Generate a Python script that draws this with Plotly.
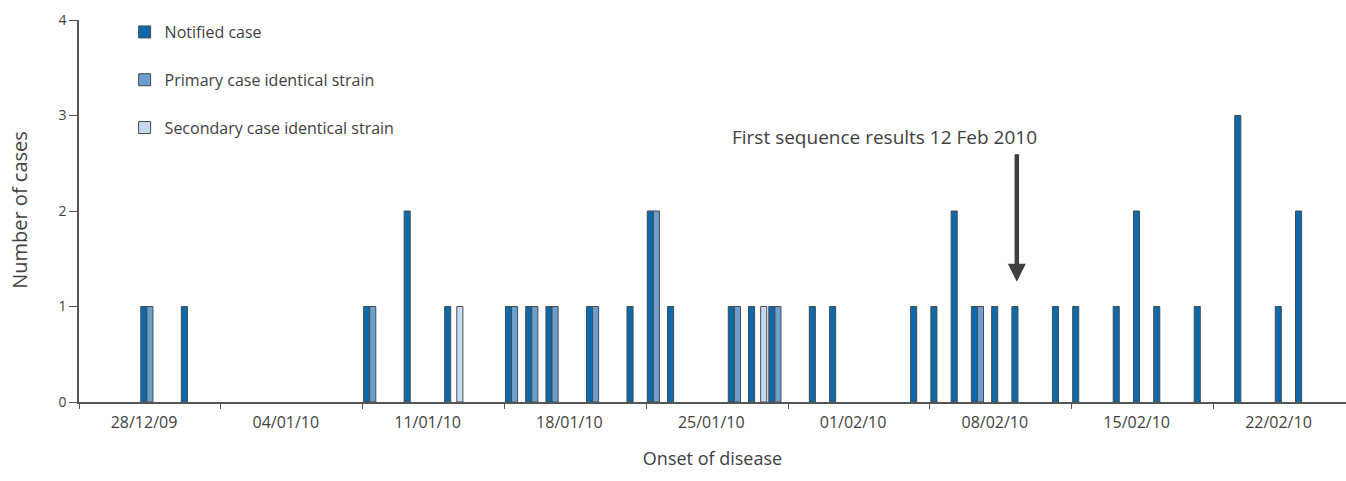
import pandas as pd
import plotly.graph_objects as go

# ---- data ----
notified_dates = ["2009-12-31", "2010-01-02", "2010-01-11", "2010-01-13", "2010-01-15",
                  "2010-01-18", "2010-01-19", "2010-01-20", "2010-01-22", "2010-01-24",
                  "2010-01-25", "2010-01-26", "2010-01-29", "2010-01-30", "2010-01-31",
                  "2010-02-02", "2010-02-03", "2010-02-07", "2010-02-08", "2010-02-09",
                  "2010-02-10", "2010-02-11", "2010-02-12", "2010-02-14", "2010-02-15",
                  "2010-02-17", "2010-02-18", "2010-02-19", "2010-02-21", "2010-02-23",
                  "2010-02-25", "2010-02-26"]
notified_counts = [1, 1, 1, 2, 1,
                   1, 1, 1, 1, 1,
                   2, 1, 1, 1, 1,
                   1, 1, 1, 1, 2,
                   1, 1, 1, 1, 1,
                   1, 2, 1, 1, 3,
                   1, 2]

primary_dates = ["2009-12-31", "2010-01-11", "2010-01-18", "2010-01-19", "2010-01-20",
                 "2010-01-22", "2010-01-25", "2010-01-29", "2010-01-31", "2010-02-10"]
primary_counts = [1, 1, 1, 1, 1, 1, 2, 1, 1, 1]

secondary_dates = ["2010-01-15", "2010-01-30"]
secondary_counts = [1, 1]

week_starts = ["2009-12-28", "2010-01-04", "2010-01-11", "2010-01-18", "2010-01-25",
               "2010-02-01", "2010-02-08", "2010-02-15", "2010-02-22"]
week_labels = ["28/12/09", "04/01/10", "11/01/10", "18/01/10", "25/01/10",
               "01/02/10", "08/02/10", "15/02/10", "22/02/10"]

axis_end = "2010-02-28 13:00"
annotation_text = "First sequence results 12 Feb 2010"
annotation_date = "2010-02-12"
x_title = "Onset of disease"
y_title = "Number of cases"

# ---- styling ----
FONT = "Open Sans"
TXT = "#3f3f3f"
AX = "#555555"
EDGE = "#4a4a4a"
C_NOT = "#0a6aab"
C_PRI = "#6c9fd1"
C_SEC = "#c6daef"


def mid_day(dates):
    # place each bar in the middle of its day slot
    return pd.to_datetime(dates) + pd.Timedelta(hours=12)


fig = go.Figure()
for name, d, v, c, g in [
    ("Notified case", notified_dates, notified_counts, C_NOT, "a"),
    ("Primary case identical strain", primary_dates, primary_counts, C_PRI, "b"),
    ("Secondary case identical strain", secondary_dates, secondary_counts, C_SEC, "c"),
]:
    fig.add_trace(go.Bar(
        x=mid_day(d), y=v, name=name, legendgroup=g,
        marker=dict(color=c, line=dict(color=EDGE, width=1)),
    ))

fig.update_layout(
    width=1346, height=481,
    margin=dict(l=79, r=0, t=20, b=79),
    paper_bgcolor="white", plot_bgcolor="white",
    barmode="group", bargap=0.1, bargroupgap=0,
    font=dict(family=FONT, color=TXT, size=14),
    showlegend=True,
    legend=dict(
        x=0.036, y=1.013, xanchor="left", yanchor="top",
        traceorder="grouped", tracegroupgap=24,
        font=dict(size=16, color=TXT),
        bgcolor="rgba(0,0,0,0)",
    ),
)

# week labels centred inside each week, tick marks on the week boundaries
label_pos = pd.to_datetime(week_starts) + pd.Timedelta(hours=77)
fig.update_xaxes(
    type="date",
    range=[week_starts[0], axis_end],
    tickmode="array", tickvals=label_pos, ticktext=week_labels,
    ticks="", automargin=False, ticklabelstandoff=5,
    minor=dict(tickmode="array", tickvals=pd.to_datetime(week_starts),
               ticks="outside", ticklen=5, tickcolor=AX, tickwidth=1),
    showline=True, linecolor=AX, linewidth=1.5,
    showgrid=False, zeroline=False,
    tickfont=dict(size=16, color=TXT),
    title=dict(text=x_title, font=dict(size=18, color=TXT), standoff=20),
)
fig.update_yaxes(
    range=[0, 4], dtick=1, automargin=False,
    ticks="outside", ticklen=8, tickcolor=AX, tickwidth=1,
    showline=True, linecolor=AX, linewidth=1.5,
    showgrid=False, zeroline=False,
    tickfont=dict(size=14, color=TXT),
)

# y-axis title placed close to the page edge, as in the reference
fig.add_annotation(
    x=-0.0466, y=0.503, xref="paper", yref="paper", text=y_title,
    textangle=-90, showarrow=False, xanchor="center", yanchor="middle",
    font=dict(size=20, color=TXT),
)

# arrow pointing at the 12 Feb bar
arrow_x = pd.to_datetime(annotation_date) + pd.Timedelta(hours=7)
fig.add_annotation(
    x=arrow_x, y=1.26, xref="x", yref="y",
    text="", showarrow=True, axref="pixel", ayref="pixel",
    ax=0, ay=-129, arrowhead=2, arrowsize=0.8, arrowwidth=4.5, arrowcolor="#404040",
)
fig.add_annotation(
    x=pd.to_datetime(annotation_date) - pd.Timedelta(hours=150), y=2.775,
    xref="x", yref="y", text=annotation_text, showarrow=False,
    font=dict(size=19, color=TXT), xanchor="center", yanchor="middle",
)

# remove the browser's default page margin so the figure fills the window exactly
fig.write_html("out.html", config={"displayModeBar": False},
               post_script="document.body.style.margin='0';")
